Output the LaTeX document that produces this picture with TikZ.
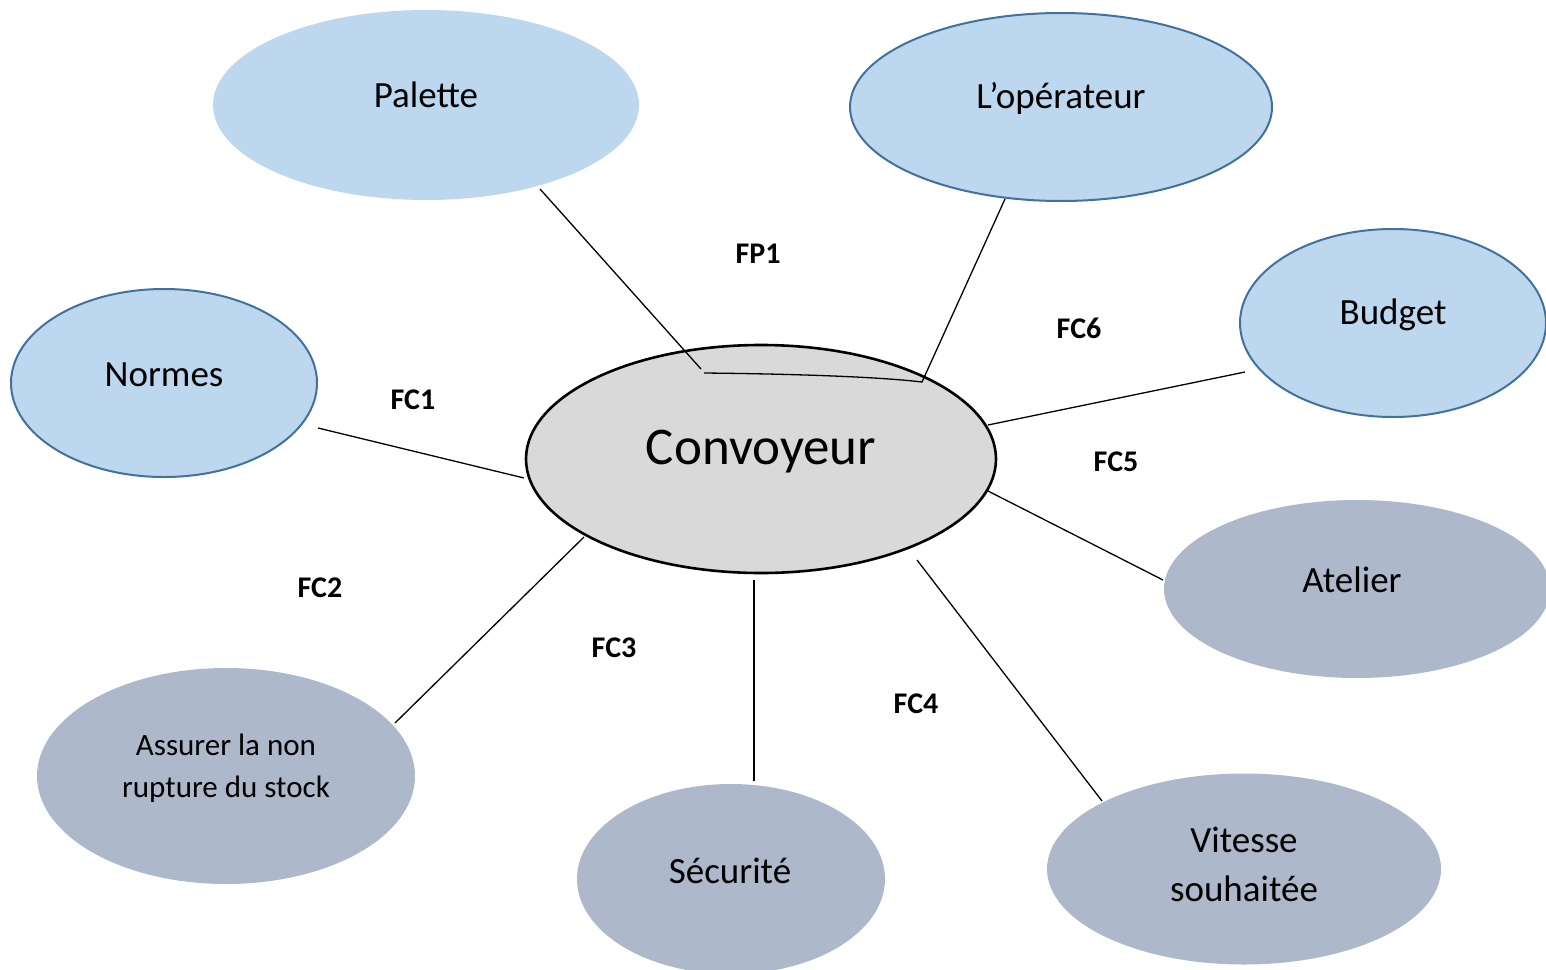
\documentclass[tikz,border=0pt]{standalone}
\usepackage{fontspec}
\setmainfont{Carlito}
\usetikzlibrary{shapes.geometric}
\definecolor{actorfill}{HTML}{BDD7EE}
\definecolor{actorline}{HTML}{41719C}
\definecolor{envfill}{HTML}{ADB9CA}
\definecolor{corefill}{HTML}{D9D9D9}
\tikzset{
  bubble/.style={ellipse, inner sep=0pt},
  actor/.style={bubble, fill=actorfill, draw=actorline, line width=2pt},
  actorplain/.style={bubble, fill=actorfill},
  env/.style={bubble, fill=envfill},
  core/.style={bubble, fill=corefill, draw=black, line width=2.6pt},
  lbl/.style={font=\fontsize{37}{49}\selectfont, align=center, inner sep=0pt},
  lblsmall/.style={font=\fontsize{31}{42}\selectfont, align=center, inner sep=0pt},
  fn/.style={font=\fontsize{30}{36}\selectfont\bfseries, inner sep=0pt},
  link/.style={line width=1.3pt},
}
\begin{document}
\begin{tikzpicture}[x=1pt, y=-1pt]
\useasboundingbox (0,0) rectangle (1546,969);
\clip (0,0) rectangle (1546,969);

% central element
\node[core, minimum width=470, minimum height=228] (conv) at (761,459) {};
\node[font=\fontsize{53}{60}\selectfont, inner sep=0pt] (convt) at (761,452) {Convoyeur};

% surrounding elements
\node[actorplain, minimum width=426, minimum height=190] (pal) at (426,105) {};
\node[lbl] (palt) at (426,95) {Palette};
\node[actor, minimum width=422, minimum height=188] (ope) at (1061,107) {};
\node[lbl] (opet) at (1061,98) {L’opérateur};
\node[actor, minimum width=306, minimum height=188] (bud) at (1393,323) {};
\node[lbl] (budt) at (1393,315) {Budget};
\node[actor, minimum width=306, minimum height=188] (nor) at (164,383) {};
\node[lbl] (nort) at (164,375) {Normes};
\node[env, minimum width=386, minimum height=178] (ate) at (1357,589) {};
\node[lbl] (atet) at (1352,580) {Atelier};
\node[env, minimum width=378, minimum height=216] (ass) at (226,776) {};
\node[lblsmall] (asst) at (226,768) {Assurer la non\\rupture du stock};
\node[env, minimum width=308, minimum height=190] (sec) at (731,879) {};
\node[lbl] (sect) at (730,871) {Sécurité};
\node[env, minimum width=394, minimum height=191] (vit) at (1244,869) {};
\node[lbl] (vitt) at (1244,864) {Vitesse\\souhaitée};

% connector end points
\coordinate (palE) at (540,189);
\coordinate (fpA) at (701,369);
\coordinate (fpB) at (704,373);
\coordinate (fpC) at (922,382);
\coordinate (opeE) at (1005,199);
\coordinate (norE) at (318,428);
\coordinate (norC) at (524,478);
\coordinate (budE) at (1245,372);
\coordinate (budC) at (988,425);
\coordinate (ateE) at (1163,580);
\coordinate (ateC) at (988,491);
\coordinate (assE) at (395,723);
\coordinate (assC) at (584,537);
\coordinate (secE) at (754,781);
\coordinate (secC) at (754,580);
\coordinate (vitE) at (1102,801);
\coordinate (vitC) at (917,560);

% connectors
\draw[link] (palE) -- (fpA);
\draw[link] (fpB) .. controls (800,374) and (880,377) .. (fpC) -- (opeE);
\draw[link] (norE) -- (norC);
\draw[link] (budC) -- (budE);
\draw[link] (ateC) -- (ateE);
\draw[link] (assC) -- (assE);
\draw[link] (secC) -- (secE);
\draw[link] (vitC) -- (vitE);

% function labels
\node[fn] (fp1) at (758,254) {FP1};
\node[fn] (fc6) at (1079,328) {FC6};
\node[fn] (fc1) at (413,400) {FC1};
\node[fn] (fc5) at (1116,462) {FC5};
\node[fn] (fc2) at (320,588) {FC2};
\node[fn] (fc3) at (614,648) {FC3};
\node[fn] (fc4) at (916,704) {FC4};
\end{tikzpicture}
\end{document}
